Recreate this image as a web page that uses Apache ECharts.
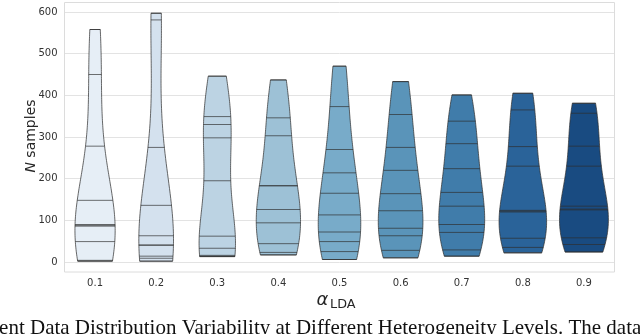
<!DOCTYPE html>
<html><head><meta charset="utf-8">
<script src="https://cdn.jsdelivr.net/npm/echarts@6/dist/echarts.min.js"></script>
<style>html,body{margin:0;padding:0;background:#fff;overflow:hidden}#c{width:640px;height:334px}</style>
</head><body><div id="c"></div>
<script>
// ---- data ----
const categories = ['0.1','0.2','0.3','0.4','0.5','0.6','0.7','0.8','0.9'];
const yTicks = [0,100,200,300,400,500,600];
// per-client sample counts (stick lines) for each alpha
const samples01 = [558, 450, 278, 148, 90, 88, 86, 49, 4, 2];
const samples02 = [597, 581, 275, 136, 63, 41, 40, 14, 9, 2];
const samples03 = [446, 349, 330, 298, 195, 62, 33, 16, 14, 13];
const samples04 = [437, 346, 303, 183, 183, 126, 94, 44, 23, 17];
const samples05 = [470, 373, 270, 214, 165, 113, 72, 49, 25, 6];
const samples06 = [433, 354, 275, 220, 164, 123, 81, 63, 28, 10];
const samples07 = [401, 338, 284, 224, 167, 134, 90, 71, 29, 14];
const samples08 = [405, 365, 277, 230, 124, 122, 120, 57, 35, 22];
const samples09 = [381, 357, 278, 230, 134, 127, 125, 58, 42, 24];
const allSamples = [samples01,samples02,samples03,samples04,samples05,samples06,samples07,samples08,samples09];

// ---- styles ----
const blues = ['#e3eef9','#d0e1f2','#b6d4e9','#94c4df','#6baed6','#4a98c9','#2e7ebc','#1764ab','#084a92'];
function desat(hex, k){
  const r=parseInt(hex.slice(1,3),16), g=parseInt(hex.slice(3,5),16), b=parseInt(hex.slice(5,7),16);
  const l=(Math.max(r,g,b)+Math.min(r,g,b))/2;
  const f=c=>Math.round(l+(c-l)*k);
  return 'rgb('+f(r)+','+f(g)+','+f(b)+')';
}
const fills = blues.map(c=>desat(c,0.75));
const lineGray = '#2e2e2e';

// ---- KDE (scott bandwidth, cut at data range) ----
function kdeFn(vals){
  const n=vals.length, mean=vals.reduce((a,b)=>a+b,0)/n;
  const sd=Math.sqrt(vals.reduce((a,b)=>a+(b-mean)*(b-mean),0)/(n-1));
  const bw=Math.pow(n,-0.2)*sd;
  return x=>vals.reduce((a,v)=>a+Math.exp(-0.5*((x-v)/bw)*((x-v)/bw)),0)/(n*bw*Math.sqrt(2*Math.PI));
}
const GRID=100;
const kdes = allSamples.map(v=>kdeFn(v));
const supports = allSamples.map(v=>{const lo=Math.min(...v),hi=Math.max(...v);const s=[];for(let k=0;k<GRID;k++)s.push(lo+(hi-lo)*k/(GRID-1));return s;});
const densities = supports.map((s,i)=>s.map(kdes[i]));
const globalMax = Math.max(...densities.map(d=>Math.max(...d)));

function renderItem(params, api){
  const i=api.value(0);
  const cx=api.coord([i,0])[0];
  const half=api.size([1,0])[0]*0.4;
  const sup=supports[i], den=densities[i];
  const right=[], left=[];
  for(let k=0;k<sup.length;k++){
    const y=api.coord([i,sup[k]])[1];
    const w=den[k]/globalMax*half;
    right.push([cx+w,y]); left.push([cx-w,y]);
  }
  const pts=right.concat(left.reverse());
  const children=[{type:'polygon',shape:{points:pts},style:{fill:fills[i],stroke:'none'}}];
  allSamples[i].forEach(v=>{
    const y=api.coord([i,v])[1];
    const w=kdes[i](v)/globalMax*half;
    children.push({type:'line',shape:{x1:cx-w,y1:y,x2:cx+w,y2:y},style:{stroke:lineGray,lineWidth:0.8,opacity:0.85}});
  });
  children.push({type:'polygon',shape:{points:pts},style:{fill:'none',stroke:lineGray,lineWidth:0.9,opacity:0.8}});
  return {type:'group',children:children};
}

const chart=echarts.init(document.getElementById('c'),null,{renderer:'canvas'});
const GL=64.5, GW=550, GT=12, GH=250;
chart.setOption({
  animation:false,
  backgroundColor:'#fff',
  grid:{left:GL,top:GT,width:GW,height:GH,containLabel:false},
  xAxis:{type:'category',data:categories,
    axisLine:{show:false},axisTick:{show:false},splitLine:{show:false},
    axisLabel:{color:'#333',fontSize:10,fontFamily:'DejaVu Sans',margin:16}},
  yAxis:{type:'value',min:0,max:600,interval:100,
    axisLine:{show:false},axisTick:{show:false},
    splitLine:{lineStyle:{color:'#e3e3e3',width:1}},
    axisLabel:{color:'#333',fontSize:10,fontFamily:'DejaVu Sans',margin:7,
      formatter:v=>yTicks.indexOf(v)>=0?String(v):''}},
  series:[{type:'custom',renderItem:renderItem,data:categories.map((c,i)=>[i]),z:3}],
  graphic:[
    {type:'rect',shape:{x:GL,y:2.5,width:GW,height:269.5},style:{fill:'none',stroke:'#dcdcdc',lineWidth:1},z:1,silent:true},
    {type:'text',x:31,y:136,rotation:Math.PI/2,style:{text:'{i|N} samples',font:'14px "DejaVu Sans"',fill:'#262626',align:'center',verticalAlign:'middle',
      rich:{i:{fontStyle:'italic',fontSize:14,fontFamily:'DejaVu Sans',fill:'#262626'}}}},
    {type:'text',x:316.5,y:300,style:{text:'α',font:'italic 18px "DejaVu Sans"',fill:'#262626',align:'left',verticalAlign:'middle'}},
    {type:'text',x:330,y:304.5,style:{text:'LDA',font:'12.8px "DejaVu Sans"',fill:'#262626',align:'left',verticalAlign:'middle'}},
    {type:'text',x:-26.6,y:328,style:{text:'Client Data Distribution Variability at Different Heterogeneity Levels. The data',font:'21px "Liberation Serif"',fill:'#111',align:'left',verticalAlign:'middle'}}
  ]
});
</script>
</body></html>
